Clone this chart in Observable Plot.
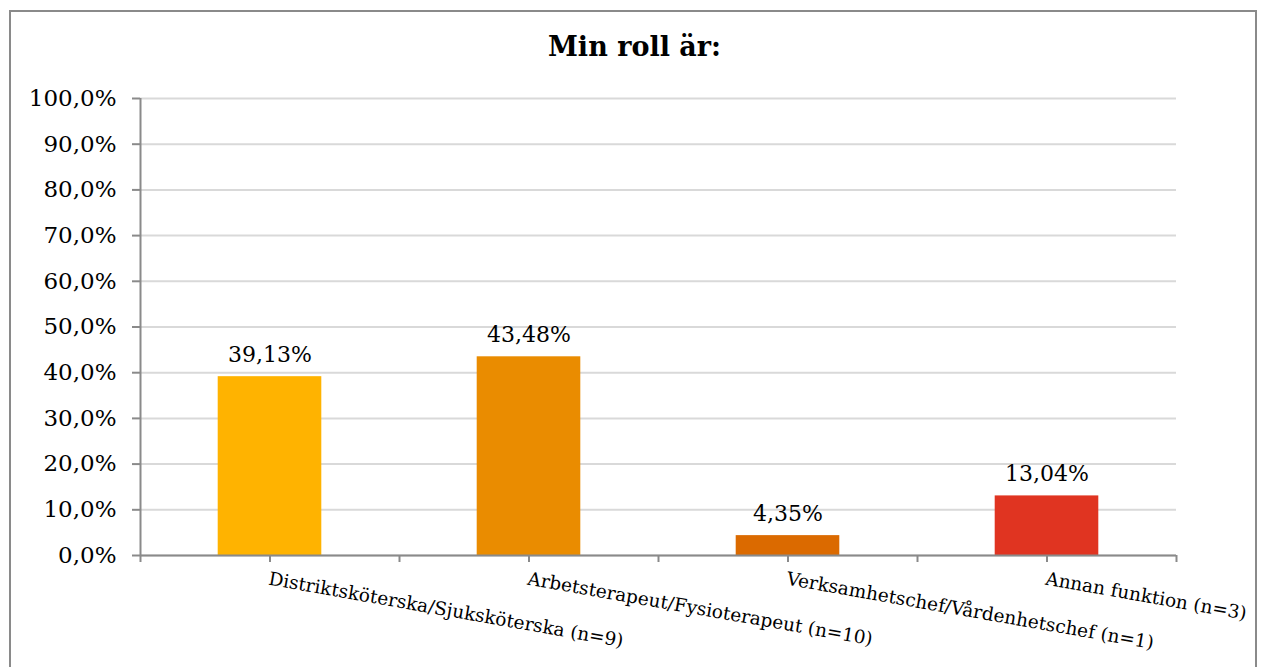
<!DOCTYPE html>
<html><head><meta charset="utf-8">
<script src="https://cdn.jsdelivr.net/npm/d3@7"></script>
<script src="https://cdn.jsdelivr.net/npm/@observablehq/plot@0.6"></script>
<style>
body{margin:0;background:#fff;}
#wrap{position:relative;width:1269px;height:667px;overflow:hidden;background:#fff;}
#border{position:absolute;left:9px;top:10px;width:1248px;height:700px;border:2px solid #8a8a8a;box-sizing:border-box;}
#title{position:absolute;left:0;width:1269px;top:31px;text-align:center;font:bold 27px "DejaVu Serif";color:#000;}
#chart svg{position:absolute;left:0;top:0;}
</style></head><body>
<div id="wrap"><div id="border"></div><div id="chart"></div><div id="title">Min roll är:</div></div>
<script>
const categories = [
  "Distriktsköterska/Sjuksköterska (n=9)",
  "Arbetsterapeut/Fysioterapeut (n=10)",
  "Verksamhetschef/Vårdenhetschef (n=1)",
  "Annan funktion (n=3)"
];
const values = [39.13, 43.48, 4.35, 13.04];
const valueLabels = ["39,13%", "43,48%", "4,35%", "13,04%"];
const colors = ["#FFB300", "#EA8C00", "#DB6A00", "#E03421"];
const yTicks = [0, 10, 20, 30, 40, 50, 60, 70, 80, 90, 100];

const data = categories.map((c, i) => ({i, category: c, value: values[i], label: valueLabels[i], color: colors[i]}));
const xTicks = d3.range(0, categories.length + 0.01, 0.5);
const gray = "#8a8a8a";

const chart = Plot.plot({
  width: 1269,
  height: 667,
  marginLeft: 140,
  marginRight: 93,
  marginTop: 98,
  marginBottom: 112,
  style: {fontFamily: "DejaVu Serif", color: "#000", background: "transparent"},
  x: {type: "linear", domain: [0, categories.length]},
  y: {domain: [0, 100]},
  marks: [
    Plot.gridY(yTicks, {stroke: "#d9d9d9", strokeOpacity: 1, strokeWidth: 2}),
    Plot.rectY(data, {x1: d => d.i + 0.3, x2: d => d.i + 0.7, y: "value", fill: d => d.color}),
    Plot.axisY({ticks: yTicks, tickSize: 8, tickPadding: 16, stroke: gray, strokeOpacity: 1, strokeWidth: 2,
      tickFormat: d => d.toFixed(1).replace(".", ",") + "%", fontSize: 23, label: null}),
    Plot.axisX({ticks: xTicks, tickSize: 7, stroke: gray, strokeOpacity: 1, strokeWidth: 2, tickFormat: () => "", label: null}),
    Plot.ruleY([0], {stroke: gray, strokeWidth: 2}),
    Plot.ruleX([0], {stroke: gray, strokeWidth: 2}),
    Plot.text(data, {x: d => d.i + 0.5, y: "value", text: "label", lineAnchor: "bottom", dy: -15, fontSize: 22, fill: "#000"}),
    Plot.text(data, {x: d => d.i + 0.5, y: () => 0, text: "category", rotate: 10, textAnchor: "start", lineAnchor: "top", dy: 16, fontSize: 18.5, fill: "#000"})
  ]
});
document.getElementById("chart").appendChild(chart);
</script>
</body></html>
